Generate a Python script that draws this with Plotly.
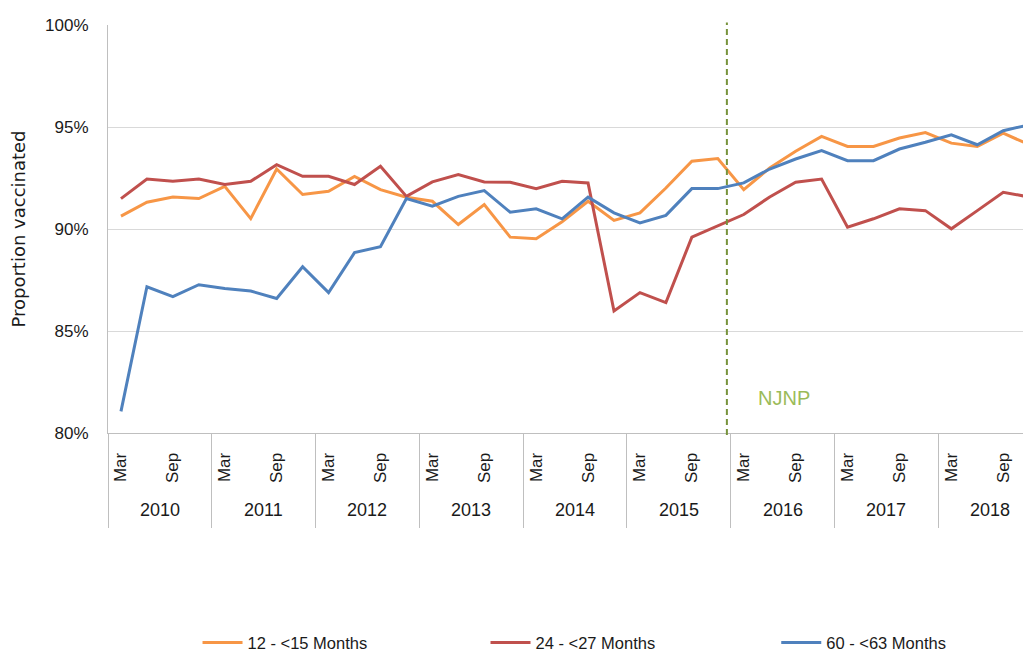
import plotly.graph_objects as go

years = ["2010", "2011", "2012", "2013", "2014", "2015", "2016", "2017", "2018"]
quarters = ["Mar", "Jun", "Sep", "Dec"]
quarter_ticks = ["Mar", "Sep"]

s_12_15 = [90.63, 91.31, 91.57, 91.49, 92.09, 90.51, 92.94, 91.69, 91.85, 92.58, 91.93, 91.56,
           91.36, 90.22, 91.20, 89.60, 89.52, 90.35, 91.36, 90.42, 90.79, 92.01, 93.32, 93.45,
           91.93, 92.99, 93.81, 94.54, 94.05, 94.05, 94.46, 94.73, 94.21, 94.05, 94.70, 94.13]
s_24_27 = [91.49, 92.45, 92.34, 92.45, 92.18, 92.34, 93.15, 92.58, 92.58, 92.18, 93.07, 91.60,
           92.31, 92.67, 92.31, 92.29, 91.97, 92.34, 92.26, 85.98, 86.88, 86.39, 89.60, 90.14,
           90.71, 91.57, 92.29, 92.45, 90.09, 90.50, 90.99, 90.90, 90.01, 90.90, 91.80, 91.57]
s_60_63 = [81.06, 87.17, 86.68, 87.27, 87.08, 86.96, 86.59, 88.15, 86.88, 88.84, 89.13, 91.49,
           91.12, 91.60, 91.88, 90.82, 90.99, 90.50, 91.56, 90.79, 90.30, 90.67, 91.98, 91.98,
           92.26, 92.94, 93.43, 93.84, 93.35, 93.35, 93.92, 94.25, 94.62, 94.13, 94.82, 95.11]

series_names = ["12 - <15 Months", "24 - <27 Months", "60 - <63 Months"]
series_colors = ["#F79646", "#C0504D", "#4F81BD"]
njnp_label = "NJNP"
njnp_pos = 23.35  # between Dec 2015 and Mar 2016

n = len(years) * len(quarters)
xs = list(range(n))
FONT = "Liberation Sans"
TXT = "#1a1a1a"

fig = go.Figure()
legend_ids = ["legend", "legend2", "legend3"]
for name, vals, col, lg in zip(series_names, [s_12_15, s_24_27, s_60_63], series_colors, legend_ids):
    fig.add_trace(go.Scatter(x=xs, y=vals, mode="lines", name=name, legend=lg,
                             line=dict(color=col, width=3)))

tickvals = [i for i in xs if quarters[i % 4] in quarter_ticks]
ticktext = [quarters[i % 4] for i in tickvals]

legend_common = dict(orientation="h", y=-0.514, yanchor="middle", xanchor="left", itemwidth=40,
                     font=dict(family=FONT, size=16.5, color=TXT), bgcolor="rgba(0,0,0,0)")

fig.update_layout(
    width=1031, height=653,
    margin=dict(l=100, r=8, t=17, b=228, autoexpand=False),
    paper_bgcolor="white", plot_bgcolor="white",
    font=dict(family=FONT, size=17, color=TXT),
    showlegend=True,
    legend=dict(x=0.097, **legend_common),
    legend2=dict(x=0.409, **legend_common),
    legend3=dict(x=0.724, **legend_common),
    xaxis=dict(range=[-0.5, 35.07], tickmode="array", tickvals=tickvals, ticktext=ticktext,
               tickangle=-90, ticks="", showgrid=False, zeroline=False, automargin=False,
               showline=True, linecolor="#BFBFBF", linewidth=1,
               ticklabelstandoff=12, tickfont=dict(size=17, color=TXT),
               minor=dict(tickmode="array", tickvals=[-0.5 + 4 * k for k in range(len(years) + 1)],
                          ticks="outside", ticklen=94, tickcolor="#BFBFBF", tickwidth=1,
                          showgrid=False)),
    yaxis=dict(range=[80, 100], tickmode="linear", tick0=80, dtick=5, ticksuffix="%",
               showgrid=True, gridcolor="#D9D9D9", gridwidth=1, zeroline=False, automargin=False,
               showline=True, linecolor="#BFBFBF", linewidth=1,
               ticks="", ticklabelstandoff=15, tickfont=dict(size=17, color=TXT),
               title=dict(text="Proportion vaccinated", standoff=15,
                          font=dict(family="DejaVu Sans", size=18, color=TXT))),
)

# Year group labels
for k, yr in enumerate(years):
    fig.add_annotation(x=1.5 + 4 * k, y=-0.188, xref="x", yref="paper", text=yr,
                       showarrow=False, font=dict(size=18, color=TXT),
                       xanchor="center", yanchor="middle")

# NJNP marker
fig.add_shape(type="line", xref="x", yref="paper", x0=njnp_pos, x1=njnp_pos, y0=-0.005, y1=1.006,
              line=dict(color="#77933C", width=2, dash="6px,4px"))
fig.add_annotation(x=25.55, y=81.73, xref="x", yref="y", text=njnp_label, showarrow=False,
                   font=dict(size=20, color="#9BBB59"), xanchor="center", yanchor="middle")

fig.write_html("out.html")
